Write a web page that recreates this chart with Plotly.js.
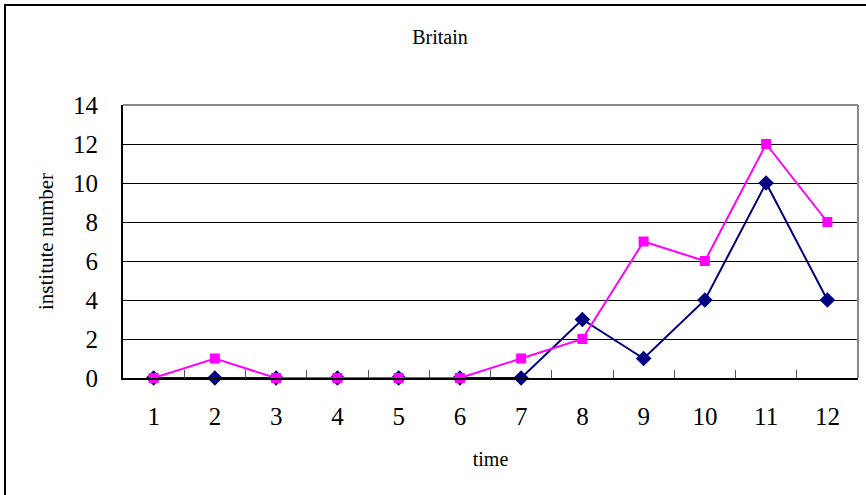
<!DOCTYPE html>
<html><head><meta charset="utf-8">
<script src="https://cdn.plot.ly/plotly-3.0.1.min.js"></script>
<style>
html,body{margin:0;padding:0;background:#fff;}
#wrap{position:relative;width:866px;height:495px;}
#chart{width:866px;height:495px;}
#frame{position:absolute;left:4px;top:4px;right:0;bottom:0;border-left:2px solid #000;border-top:2px solid #000;pointer-events:none;}
</style></head>
<body>
<div id="wrap"><div id="chart"></div><div id="frame"></div></div>
<script>
var categories = ['1','2','3','4','5','6','7','8','9','10','11','12'];
var seriesNavy = [0,0,0,0,0,0,0,3,1,4,10,4];
var seriesMagenta = [0,1,0,0,0,0,1,2,7,6,12,8];
var yTicks = [0,2,4,6,8,10,12,14];

var font = "Liberation Serif, Times New Roman, serif";
var traces = [
  {x: categories, y: seriesNavy, type: 'scatter', mode: 'lines+markers', cliponaxis: false,
   line: {color: '#000080', width: 2}, marker: {symbol: 'diamond', size: 12, color: '#000080'}},
  {x: categories, y: seriesMagenta, type: 'scatter', mode: 'lines+markers', cliponaxis: false,
   line: {color: '#FF00FF', width: 2}, marker: {symbol: 'square', size: 10, color: '#FF00FF'}}
];
var layout = {
  width: 866, height: 495,
  margin: {l: 123, r: 8, t: 105, b: 117},
  paper_bgcolor: '#fff', plot_bgcolor: '#fff',
  showlegend: false,
  font: {family: font, color: '#000'},
  title: {text: 'Britain', font: {family: font, size: 20, color: '#000'},
          x: 440/866, xref: 'container', xanchor: 'center', y: 1 - 37/495, yref: 'container', yanchor: 'middle'},
  xaxis: {type: 'category', range: [-0.5, 11.5], showgrid: false, zeroline: false,
          showline: true, linecolor: '#000', linewidth: 2,
          ticks: 'inside', tickson: 'boundaries', ticklen: 8, tickcolor: '#555', tickwidth: 1,
          ticklabelstandoff: 15,
          tickfont: {family: font, size: 25, color: '#000'},
          title: {text: 'time', font: {family: font, size: 20, color: '#000'}, standoff: 23}},
  yaxis: {range: [0, 14], tickvals: yTicks, showgrid: true, gridcolor: '#000', gridwidth: 1,
          zeroline: false, showline: true, linecolor: '#000', linewidth: 2,
          ticks: 'inside', ticklen: 9, tickcolor: '#000', tickwidth: 1,
          ticklabelstandoff: 18,
          tickfont: {family: font, size: 25, color: '#000'},
          title: {text: 'institute number', font: {family: font, size: 21, color: '#000'}, standoff: 14}},
  shapes: [
    {type: 'line', xref: 'paper', yref: 'paper', x0: 0, x1: 1, y0: 1, y1: 1, line: {color: '#888', width: 2}},
    {type: 'line', xref: 'paper', yref: 'paper', x0: 1, x1: 1, y0: 0, y1: 1, line: {color: '#888', width: 2}}
  ]
};
Plotly.newPlot('chart', traces, layout, {displayModeBar: false, staticPlot: true});
</script>
</body></html>
